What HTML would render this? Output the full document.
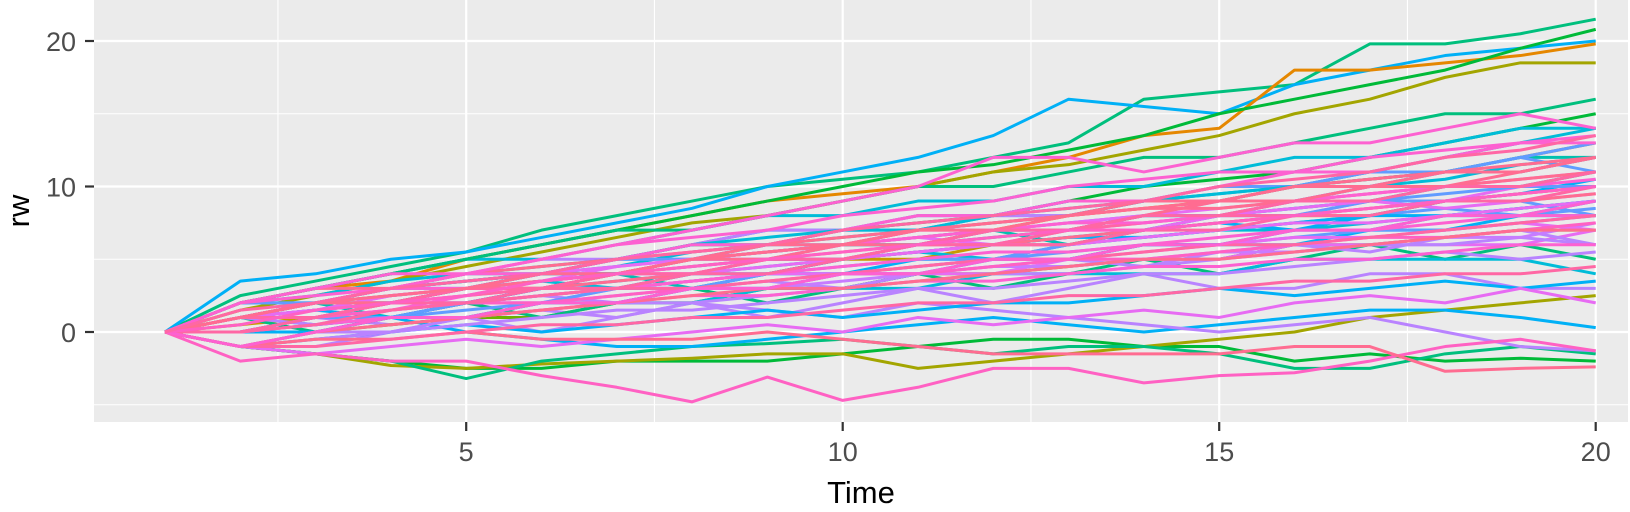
<!DOCTYPE html>
<html><head><meta charset="utf-8"><style>
html,body{margin:0;padding:0;background:#fff;}
svg{display:block;font-family:"Liberation Sans",sans-serif;}
</style></head><body>
<svg id="chart" width="1630" height="512" viewBox="0 0 1630 512" xmlns="http://www.w3.org/2000/svg">
<rect x="0" y="0" width="1630" height="512" fill="#ffffff"/>
<rect x="94" y="0" width="1534" height="422" fill="#EBEBEB"/>
<g id="grid"></g>
<g id="lines"></g>
<g id="axes"></g>
<text x="861" y="503" font-size="31" text-anchor="middle" fill="#000">Time</text>
<text x="0" y="0" font-size="31" text-anchor="middle" fill="#000" transform="translate(29,211) rotate(-90)">rw</text>
</svg>
<script>
const xTicks=[5,10,15,20];
const xMinor=[2.5,7.5,12.5,17.5];
const yTicks=[0,10,20];
const yMinor=[-5,5,15];
const times=[1,2,3,4,5,6,7,8,9,10,11,12,13,14,15,16,17,18,19,20];
const s01=[0,2.5,3.5,4.5,5.5,7,8,9,10,10.5,11,12,13,16,16.5,17,19.8,19.8,20.5,21.5];
const s02=[0,3.5,4,5,5.5,6.5,7.5,8.5,10,11,12,13.5,16,15.5,15,17,18,19,19.5,20];
const s03=[0,2,3,3.5,5,6,7,8,9,9.5,10,11,12,13.5,14,18,18,18.5,19,19.8];
const s04=[0,2,3,4,5,6,7,8,9,10,11,11.5,12.5,13.5,15,16,17,18,19.5,20.8];
const s05=[0,1.5,2.5,3.5,4.5,5.5,6.5,7.5,8,9,10,11,11.5,12.5,13.5,15,16,17.5,18.5,18.5];
const s06=[0,-1,-1.5,-2,-2.5,-2.5,-2,-2,-2,-1.5,-1,-0.5,-0.5,-1,-1,-2,-1.5,-2,-1.8,-2];
const s07=[0,-1,-1.5,-2.3,-2.5,-2.2,-2,-1.8,-1.5,-1.5,-2.5,-2,-1.5,-1,-0.5,0,1,1.5,2,2.5];
const s08=[0,-1,-1.5,-2,-3.2,-2,-1.5,-1,-0.8,-0.5,-1,-1.5,-1,-1,-1.5,-2.5,-2.5,-1.5,-1,-1.5];
const s09=[0,1,0.5,1,0,-0.5,-1,-1,-0.5,0,0.5,1,0.5,0,0.5,1,1.5,1.5,1,0.3];
const s10=[0,0,1,0.5,1,1.5,1,2,1.5,1,2,1.5,1,0.5,0,0.5,1,0,-1,-1.3];
const s11=[0,1,1.5,2,3,3,4,5,5.5,6,6.5,7,8,8.5,9,10,10.5,11,12,13];
const s12=[0,0.5,1,1,2,2.5,3,3.5,4,5,5,6,6,7,7.5,8,8,9,9.5,10];
const s13=[0,1,2,3,3.5,4,5,6,6,7,7.5,8,9,10,10.5,11,12,13,14,15];
const s14=[0,-1,0,0.5,1,1,2,2,3,3,4,4,4.5,5,5,6,6,6.5,7,7];
const s15=[0,1,0,1,2,1,2,3,2,3,4,3,4,5,4,5,6,5,6,5];
const s16=[0,1,2,1,2,3,4,3,4,5,6,7,6,7,8,9,10,11,12,12];
const s17=[0,2,3,4,5,5,6,7,8,8,9,9,10,10,11,12,12,13,14,14];
const s18=[0,0,1,2,2,3,3,3,4,4,5,5,5,6,6,6,7,7,8,8];
const s19=[0,1,1,2,3,4,5,5,6,7,7,8,8,9,10,10,11,11,12,11];
const s20=[0,-1,-1,0,1,0,1,2,1,2,3,2,3,4,3,3,4,4,3,3];
const s21=[0,2,2,3,4,4,5,6,7,7,8,8,9,9,9,10,11,12,13,14];
const s22=[0,1,2,2,3,4,4,5,6,6,7,8,9,9,10,10,11,11,12,13];
const s23=[0,0,0,1,1,2,2,3,3,4,4,5,5,6,6,7,7,8,8,9];
const s24=[0,1,2,3,4,5,5,6,7,7,8,8,8,9,9,9,10,10,10,10];
const s25=[0,1,1,1,2,2,3,3,3,4,4,4,5,5,5,6,6,6,6,7];
const s26=[0,2,3,4,5,6,7,7,8,9,10,10,11,12,12,13,14,15,15,16];
const s27=[0,1,2,2,3,3,3,4,5,5,6,7,7,8,9,9,10,11,11,12];
const s28=[0,0,1,1,1,2,2,2,3,3,3,4,4,4,4,5,5,5,5,4];
const s29=[0,1,1,2,2,3,4,4,5,5,6,6,7,7,8,8,9,9,10,10];
const s30=[0,1,2,3,3,4,4,5,5,6,6,7,7,8,8,8,9,9,9,8];
const s31=[0,-1,-0.5,0,0.5,0,0.5,1,1.5,1,1.5,2,2,2.5,3,2.5,3,3.5,3,3.5];
const s32=[0,1,0.5,1.5,2,2.5,2,3,3.5,3,4,4.5,5,4.5,5.5,6,5.5,6.5,7,6];
const s33=[0,-1,-1.5,-1,-0.5,-1,-0.5,0,0.5,0,1,0.5,1,1.5,1,2,2.5,2,3,2];
const s34=[0,2,2.5,3,4,5,6,6.5,7,8,8.5,9,10,10.5,11,11,12,12.5,13,13.5];
const s35=[0,1,1.5,2.5,3,3.5,4.5,5,5,6,6.5,6,7,7.5,8,8.5,9,8.5,9,9.5];
const s36=[0,-2,-1.5,-2,-2,-3,-3.8,-4.8,-3.1,-4.7,-3.8,-2.5,-2.5,-3.5,-3,-2.8,-2,-1,-0.5,-1.3];
const s37=[0,-1,-0.5,-0.5,0,-0.5,-0.5,-0.5,0,-0.5,-1,-1.5,-1.5,-1.5,-1.5,-1,-1,-2.7,-2.5,-2.4];
const s38=[0,1,2,3,4,4,5,6,6,7,8,8,9,9,10,11,11,12,13,13];
const s39=[0,1,1,2,3,3,4,5,5,6,6,7,7,8,9,9,10,10,11,12];
const s40=[0,2,3,4,4,5,6,7,8,9,10,12,12,11,12,13,13,14,15,14];
const s41=[0,0,1,2,2,3,3,4,4,5,6,6,6,7,7,8,8,9,9,10];
const s42=[0,1,2,2,3,4,4,5,6,6,7,7,8,9,9,10,10,11,11,12];
const s43=[0,-1,0,1,1,2,2,3,3,4,4,5,5,6,6,7,7,8,8,9];
const s44=[0,1,1,2,3,3,4,4,5,5,6,7,7,8,8,9,9,10,10,11];
const s45=[0,1,2,2.5,3,3.5,4,5,5.5,6,7,7.5,8,8.5,9,10,10.5,11,11.5,12];
const s46=[0,0.5,1.5,2,2.5,3.5,4,4.5,5,5.5,6,6.5,7,7,7.5,8,8.5,9,9.5,10];
const s47=[0,1.5,2,3,3.5,4,5,5.5,6,7,7.5,8,8.5,9,10,10.5,11,12,12.5,13.5];
const s48=[0,1,2,2,3,3.5,3,4,4.5,5,5.5,5,6,6.5,7,7,7.5,8,8.5,9];
const s49=[0,0,0.5,1,1.5,2,3,3.5,4,4,4.5,5,6,6.5,7,7.5,8,8.5,8,8.5];
const s50=[0,1,1.5,1,2,3,3.5,4,4,5,5.5,6,6.5,7,7.5,7,8,9,9.5,10.5];
const s51=[0,-1,-0.5,0,1,1.5,2,2,2.5,3,3.5,4,4,4.5,5,5.5,6,6,6.5,6];
const s52=[0,1,2,2.5,3,4,4,5,5.5,6,6,6.5,7,8,8,8.5,9,10,10,11];
const s53=[0,1,1,1.5,2,2,2.5,3,3,3.5,4,4.5,4.5,5,5.5,5.5,6,6.5,6.5,7.5];
const s54=[0,2,2.5,3.5,4,4.5,5,6,6.5,7,7,7.5,8,9,9.5,10,10,10.5,11.5,12];
const s55=[0,0,1,1,2,2.5,3,3,4,4.5,5,5,5.5,6,6,6.5,7,7,7.5,8];
const s56=[0,1,1.5,2,3,3.5,4,4.5,5,5,5.5,6,6.5,6.5,7,7.5,8,8,8.5,9];
const s57=[0,-1,0,0,0.5,1,1.5,1.5,2,2.5,3,3,3.5,4,4,4.5,5,5.5,5,5.5];
const s58=[0,1,2,3,3.5,4,4.5,5.5,6,6.5,7,8,8.5,9,9.5,10,10.5,11,11,12];
const s59=[0,1,1,2,2,2.5,3,3.5,4,4,4.5,5,5,5.5,6,6.5,6.5,7,7.5,7];
const s60=[0,2,2,3,3.5,4,5,5,5.5,6,6.5,7,7.5,8,8,8.5,9,9.5,10,10];
const s61=[0,0,0.5,1,1,1.5,2,2.5,2.5,3,3.5,3.5,4,4.5,4.5,5,5,5.5,6,6];
const s62=[0,1,2,2.5,3,3,3.5,4,5,5.5,6,6,6.5,7,7.5,8,8.5,9,9,9.5];
const s63=[0,1,1.5,2.5,3,4,4.5,5,5.5,6,7,7,7.5,8,8.5,9,9.5,10,10.5,11];
const s64=[0,-1,-1,-0.5,0,0.5,0.5,1,1,1.5,2,2,2.5,2.5,3,3.5,3.5,4,4,4.5];
const s65=[0,1,1,1.5,2.5,3,3,3.5,4,4.5,5,5.5,5.5,6,6.5,7,7,7.5,8,8];
const s66=[0,2,3,3,4,4.5,5,5.5,6,6.5,7,7.5,8,8.5,8.5,9,9.5,10,10.5,11];
const s67=[0,0,1,1.5,2,2,2.5,3,3.5,4,4,4.5,5,5,5.5,6,6.5,6.5,7,7.5];
const s68=[0,1,2,2,2.5,3,4,4.5,5,5,5.5,6,7,7.5,8,8,8.5,9,9.5,10];
const s69=[0,1,1.5,2,2.5,3.5,4,4,4.5,5,5.5,6,6,6.5,7,7.5,7.5,8,8.5,9];
const s70=[0,-1,0,0.5,1,1.5,2,2.5,3,3,3.5,4,4.5,5,5,5.5,6,6.5,7,7];
const s71=[0,1,2,3,3,3.5,4,5,5.5,6,6.5,7,7.5,7.5,8,9,9.5,10,10,10.5];
const s72=[0,0,0.5,1.5,2,2.5,3,3,3.5,4,4.5,5,5,5.5,6,6,6.5,7,7.5,8];
const series=[s01,s02,s03,s04,s05,s06,s07,s08,s09,s10,s11,s12,s13,s14,s15,s16,s17,s18,s19,s20,s21,s22,s23,s24,s25,s26,s27,s28,s29,s30,s31,s32,s33,s48,s49,s50,s51,s52,s53,s54,s55,s56,s57,s58,s59,s60,s34,s35,s36,s37,s61,s62,s63,s64,s65,s66,s67,s68,s69,s70,s71,s72,s38,s39,s40,s41,s42,s43,s44,s45,s46,s47];
const colors=["#00BF7D","#00B0F6","#E58700","#00BA38","#A3A500","#00BA38","#A3A500","#00BF7D","#00B0F6","#B983FF",
"#E58700","#C99800","#00BA38","#6BB100","#00BF7D","#00C0AF","#00BCD8","#00B0F6","#619CFF","#B983FF",
"#00BCD8","#619CFF","#00B0F6","#B983FF","#E76BF3","#00BF7D","#B983FF","#00BCD8","#E76BF3","#619CFF",
"#00B0F6","#B983FF","#E76BF3","#00BCD8","#619CFF","#00B0F6","#B983FF","#00C0AF","#C77CFF","#00BCD8",
"#619CFF","#00B0F6","#B983FF","#00BCD8","#E76BF3","#619CFF","#FD61D1","#E76BF3","#FF61C3","#FF6C91",
"#FD61D1","#FF6C91","#E76BF3","#FF67A4","#FD61D1","#FF6C91","#FF61C3","#FF67A4","#E76BF3","#FF6C91",
"#FD61D1","#FF67A4","#FD61D1","#FF6C91","#FD61D1","#FF67A4","#FF6C91","#FD61D1","#FF67A4","#FF6C91","#FF61C3","#FF67A4"];
const X=t=>165+(t-1)*75.3;
const Y=v=>332-v*14.55;
const NS="http://www.w3.org/2000/svg";
const grid=document.getElementById('grid');
function ln(p,x1,y1,x2,y2,c,w){const l=document.createElementNS(NS,'line');l.setAttribute('x1',x1);l.setAttribute('y1',y1);l.setAttribute('x2',x2);l.setAttribute('y2',y2);l.setAttribute('stroke',c);l.setAttribute('stroke-width',w);p.appendChild(l);return l;}
xMinor.forEach(t=>{const l=ln(grid,X(t),0,X(t),422,'#fff',1.1);

});
yMinor.forEach(v=>{const l=ln(grid,94,Y(v),1628,Y(v),'#fff',1.1);

});
xTicks.forEach(t=>{const l=ln(grid,X(t),0,X(t),422,'#fff',2.2);

});
yTicks.forEach(v=>{const l=ln(grid,94,Y(v),1628,Y(v),'#fff',2.2);

});
const lg=document.getElementById('lines');
series.forEach((s,i)=>{const p=document.createElementNS(NS,'polyline');
p.setAttribute('points',s.map((v,j)=>X(times[j])+','+Y(v)).join(' '));
p.setAttribute('fill','none');p.setAttribute('stroke',colors[i%colors.length]);p.setAttribute('stroke-width','3');p.setAttribute('stroke-linejoin','round');


lg.appendChild(p);});
const ax=document.getElementById('axes');
yTicks.forEach(v=>{const l=ln(ax,85,Y(v),94,Y(v),'#333',2.2);


const t=document.createElementNS(NS,'text');t.setAttribute('x',76);t.setAttribute('y',Y(v)+10);t.setAttribute('text-anchor','end');t.setAttribute('font-size','27');t.setAttribute('fill','#4D4D4D');t.textContent=v;


ax.appendChild(t);});
xTicks.forEach(v=>{const l=ln(ax,X(v),422,X(v),431,'#333',2.2);


const t=document.createElementNS(NS,'text');t.setAttribute('x',X(v));t.setAttribute('y',461);t.setAttribute('text-anchor','middle');t.setAttribute('font-size','27');t.setAttribute('fill','#4D4D4D');t.textContent=v;


ax.appendChild(t);});
</script>
</body></html>
